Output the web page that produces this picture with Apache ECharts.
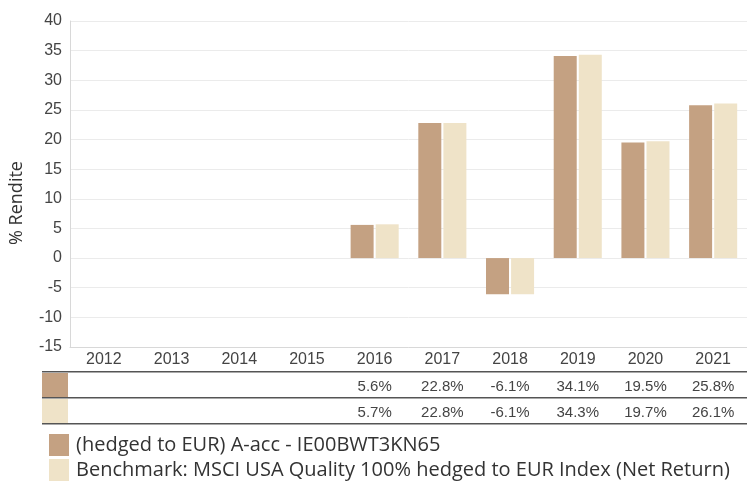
<!DOCTYPE html>
<html>
<head>
<meta charset="utf-8">
<script src="https://cdn.jsdelivr.net/npm/echarts@6/dist/echarts.min.js"></script>
<style>
  html, body { margin: 0; padding: 0; background: #fff; }
  #chart { width: 747px; height: 482px; }
</style>
</head>
<body>
<div id="chart"></div>
<script>
// anni e rendimenti annuali (%)
var years = ['2012', '2013', '2014', '2015', '2016', '2017', '2018', '2019', '2020', '2021'];
var fundValues = [null, null, null, null, 5.6, 22.8, -6.1, 34.1, 19.5, 25.8];
var benchValues = [null, null, null, null, 5.7, 22.8, -6.1, 34.3, 19.7, 26.1];
var fundName = '(hedged to EUR) A-acc - IE00BWT3KN65';
var benchName = 'Benchmark: MSCI USA Quality 100% hedged to EUR Index (Net Return)';

var fundColor = '#c4a182';
var benchColor = '#efe3c8';
var axisFont = 'Liberation Sans, Arial, sans-serif';
var legendFont = 'Open Sans, sans-serif';

function pct(v) {
    return v == null ? '' : v.toFixed(1) + '%';
}

var myChart = echarts.init(document.getElementById('chart'));

// xAxis aggiuntivi usati come righe della tabella sotto il grafico
function tableAxis(values, offset) {
    return {
        type: 'category',
        data: values.map(pct),
        position: 'bottom',
        offset: offset,
        axisLine: {show: false},
        axisTick: {show: false},
        splitLine: {show: false},
        axisLabel: {
            interval: 0,
            margin: 6,
            color: '#444',
            fontSize: 15,
            fontFamily: axisFont
        }
    };
}

// una legenda per riga
function legendRow(name, top) {
    return {
        left: 44,
        top: top,
        itemWidth: 20,
        itemHeight: 22,
        icon: 'rect',
        textStyle: {
            color: '#333',
            fontSize: 20,
            fontFamily: legendFont,
            padding: [0, 0, 0, 2]
        },
        data: [name]
    };
}

var option = {
    backgroundColor: '#ffffff',
    animation: false,
    grid: {
        left: 69,
        right: 0,
        top: 21,
        bottom: 135
    },
    legend: [
        legendRow(fundName, 429),
        legendRow(benchName, 454)
    ],
    xAxis: [
        {
            type: 'category',
            data: years,
            position: 'bottom',
            axisLine: {onZero: false, lineStyle: {color: '#d8d8d8'}},
            axisTick: {show: false},
            axisLabel: {
                interval: 0,
                margin: 5,
                color: '#444',
                fontSize: 16,
                fontFamily: axisFont
            }
        },
        tableAxis(fundValues, 26),
        tableAxis(benchValues, 52)
    ],
    yAxis: [
        {
            type: 'value',
            min: -15,
            max: 40,
            interval: 5,
            name: '% Rendite',
            nameLocation: 'middle',
            nameRotate: 90,
            nameGap: 44,
            nameTextStyle: {
                color: '#333',
                fontSize: 18,
                fontFamily: legendFont,
                padding: [0, 38, 0, 0]
            },
            axisLine: {show: true, lineStyle: {color: '#d8d8d8'}},
            axisTick: {show: false},
            splitLine: {lineStyle: {color: '#ebebeb'}},
            axisLabel: {
                margin: 8,
                color: '#444',
                fontSize: 16,
                fontFamily: axisFont
            }
        }
    ],
    graphic: [
        // righe della tabella
        {type: 'rect', shape: {x: 42, y: 371, width: 705, height: 1.5}, style: {fill: '#555'}, silent: true},
        {type: 'rect', shape: {x: 42, y: 397, width: 705, height: 1.5}, style: {fill: '#555'}, silent: true},
        {type: 'rect', shape: {x: 42, y: 423, width: 705, height: 1.5}, style: {fill: '#555'}, silent: true},
        // colori delle righe
        {type: 'rect', shape: {x: 42, y: 373, width: 26, height: 24}, style: {fill: fundColor}, silent: true},
        {type: 'rect', shape: {x: 42, y: 399, width: 26, height: 24}, style: {fill: benchColor}, silent: true}
    ],
    series: [
        {
            name: fundName,
            type: 'bar',
            xAxisIndex: 0,
            barWidth: 23,
            barGap: '9%',
            itemStyle: {color: fundColor},
            data: fundValues
        },
        {
            name: benchName,
            type: 'bar',
            xAxisIndex: 0,
            barWidth: 23,
            itemStyle: {color: benchColor},
            data: benchValues
        }
    ]
};
myChart.setOption(option);
</script>
</body>
</html>
